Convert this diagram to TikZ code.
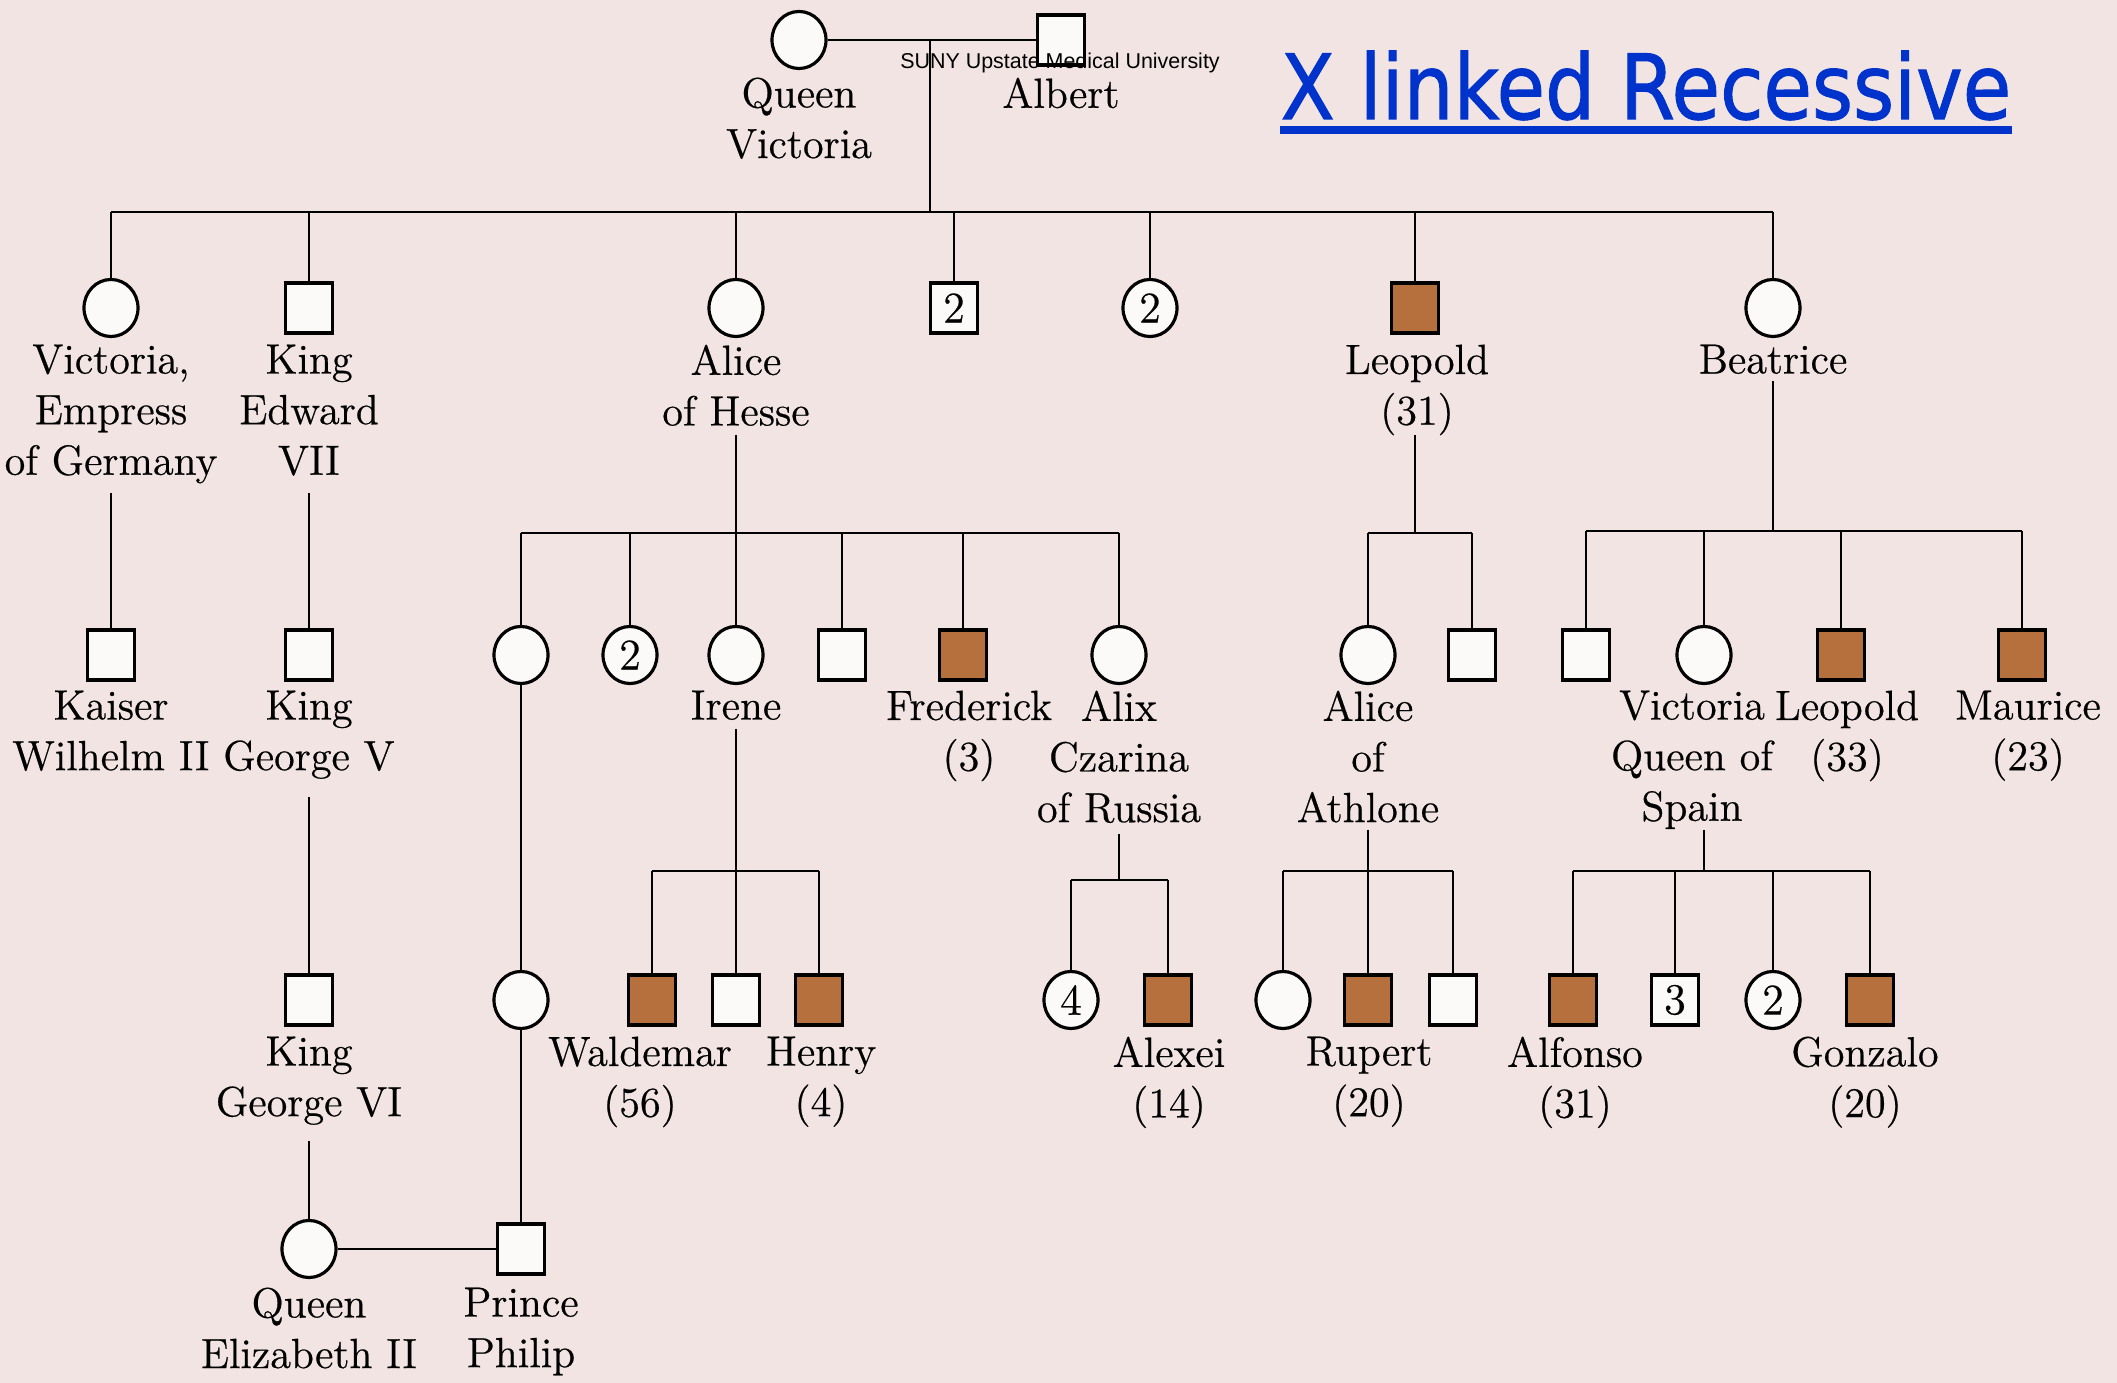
\documentclass[tikz,border=0pt]{standalone}
\usepackage{fontspec}
\usepackage{graphicx}
\newfontfamily\wmfont{Liberation Sans}
\newfontfamily\titlefont[FakeBold=1.2]{DejaVu Sans}
\newfontfamily\lblfont[FakeBold=0.5]{Latin Modern Roman}
\usetikzlibrary{shapes.geometric}
\definecolor{bgc}{RGB}{241,228,227}
\definecolor{affc}{RGB}{182,112,62}
\definecolor{ttlc}{RGB}{0,51,204}
\definecolor{symw}{RGB}{252,250,249}
\tikzset{
  fem/.style={ellipse, draw, fill=symw, line width=0.9pt, minimum width=0.54cm, minimum height=0.57cm, inner sep=0pt, font=\lblfont\fontsize{12.5}{14}\selectfont},
  mal/.style={rectangle, draw, fill=symw, line width=0.9pt, minimum width=0.47cm, minimum height=0.50cm, inner sep=0pt, font=\lblfont\fontsize{12.5}{14}\selectfont},
  affm/.style={mal, fill=affc},
  lbl/.style={anchor=north, align=center, inner sep=0pt, font=\lblfont\fontsize{12}{14.4}\selectfont},
  con/.style={line width=0.65pt}
}
\begin{document}
\begin{tikzpicture}[x=0.01cm, y=-0.01cm]
\fill[bgc] (0,0) rectangle (2117,1383);
\useasboundingbox (0,0) rectangle (2117,1383);

% ---------- Generation I ----------
\node[fem] (qv) at (799,40) {};
\node[mal] (alb) at (1061,40) {};
\node[lbl] (lqv) at (799,77) {Queen\\Victoria};
\node[lbl] (lalb) at (1061,77) {Albert};

% ---------- Generation II ----------
\node[fem] (vemp) at (111,308) {};
\node[mal] (ed7) at (309,308) {};
\node[fem] (alh) at (736,308) {};
\node[mal] (s2a) at (954,308) {2};
\node[fem] (c2a) at (1150,308) {2};
\node[affm] (leo) at (1415,308) {};
\node[fem] (bea) at (1773,308) {};

\node[lbl] (lvemp) at (111,344) {Victoria,\\Empress\\of Germany};
\node[lbl] (led7) at (309,344) {King\\Edward\\VII};
\node[lbl] (lalh) at (736,344) {Alice\\of Hesse};
\node[lbl] (lleo) at (1417,344) {Leopold\\(31)};
\node[lbl] (lbea) at (1773,344) {Beatrice};

% ---------- Generation III ----------
\node[mal] (kai) at (111,655) {};
\node[mal] (gv) at (309,655) {};
\node[fem] (c3) at (521,655) {};
\node[fem] (c2b) at (630,655) {2};
\node[fem] (ire) at (736,655) {};
\node[mal] (sq3) at (842,655) {};
\node[affm] (fre) at (963,655) {};
\node[fem] (alx) at (1119,655) {};
\node[fem] (ath) at (1368,655) {};
\node[mal] (sqa) at (1472,655) {};
\node[mal] (sqb) at (1586,655) {};
\node[fem] (vqs) at (1704,655) {};
\node[affm] (leo3) at (1841,655) {};
\node[affm] (mau) at (2022,655) {};

\node[lbl] (lkai) at (111,690) {Kaiser\\Wilhelm II};
\node[lbl] (lgv) at (309,690) {King\\George V};
\node[lbl] (lire) at (736,690) {Irene};
\node[lbl] (lfre) at (969,690) {Frederick\\(3)};
\node[lbl] (lalx) at (1119,690) {Alix\\Czarina\\of Russia};
\node[lbl] (lath) at (1368,690) {Alice\\of\\Athlone};
\node[lbl] (lvqs) at (1692,690) {Victoria\\Queen of\\Spain};
\node[lbl] (lleo3) at (1847,690) {Leopold\\(33)};
\node[lbl] (lmau) at (2028,690) {Maurice\\(23)};

% ---------- Generation IV ----------
\node[mal] (g6) at (309,1000) {};
\node[fem] (c4) at (521,1000) {};
\node[affm] (wal) at (652,1000) {};
\node[mal] (sqi) at (736,1000) {};
\node[affm] (hen) at (819,1000) {};
\node[fem] (c4n) at (1071,1000) {4};
\node[affm] (ale) at (1168,1000) {};
\node[fem] (cath) at (1283,1000) {};
\node[affm] (rup) at (1368,1000) {};
\node[mal] (sqr) at (1453,1000) {};
\node[affm] (alf) at (1573,1000) {};
\node[mal] (s3) at (1675,1000) {3};
\node[fem] (c2c) at (1773,1000) {2};
\node[affm] (gon) at (1870,1000) {};

\node[lbl] (lg6) at (309,1036) {King\\George VI};
\node[lbl] (lwal) at (640,1036) {Waldemar\\(56)};
\node[lbl] (lhen) at (821,1036) {Henry\\(4)};
\node[lbl] (lale) at (1169,1036) {Alexei\\(14)};
\node[lbl] (lrup) at (1369,1036) {Rupert\\(20)};
\node[lbl] (lalf) at (1575,1036) {Alfonso\\(31)};
\node[lbl] (lgon) at (1865,1036) {Gonzalo\\(20)};

% ---------- Generation V ----------
\node[fem] (qe2) at (309,1249) {};
\node[mal] (php) at (521,1249) {};
\node[lbl] (lqe2) at (309,1287) {Queen\\Elizabeth II};
\node[lbl] (lphp) at (521,1287) {Prince\\Philip};

% ---------- junction coordinates ----------
\coordinate (m1) at (930,40);
\coordinate (b1) at (930,212);
\coordinate (vemps) at (111,493);
\coordinate (ed7s) at (309,493);
\coordinate (alhs) at (736,435);
\coordinate (b2a) at (736,533);
\coordinate (leos) at (1415,435);
\coordinate (b2b) at (1415,533);
\coordinate (beas) at (1773,381);
\coordinate (b2c) at (1773,531);
\coordinate (gvs) at (309,797);
\coordinate (ires) at (736,729);
\coordinate (b3a) at (736,871);
\coordinate (alxs) at (1119,834);
\coordinate (b3b) at (1119,880);
\coordinate (aths) at (1368,830);
\coordinate (b3c) at (1368,871);
\coordinate (vqss) at (1704,830);
\coordinate (b3d) at (1704,871);
\coordinate (g6s) at (309,1141);

% ---------- connectors ----------
\begin{scope}[con]
% Gen I
\draw (qv) -- (alb);
\draw (m1) -- (b1);
\draw (vemp |- b1) -- (bea |- b1);
\foreach \n in {vemp,ed7,alh,s2a,c2a,leo,bea} \draw (\n |- b1) -- (\n.north);
% Gen II -> III
\draw (vemps) -- (kai.north);
\draw (ed7s) -- (gv.north);
\draw (alhs) -- (b2a);
\draw (c3 |- b2a) -- (alx |- b2a);
\foreach \n in {c3,c2b,ire,sq3,fre,alx} \draw (\n |- b2a) -- (\n.north);
\draw (leos) -- (b2b);
\draw (ath |- b2b) -- (sqa |- b2b);
\foreach \n in {ath,sqa} \draw (\n |- b2b) -- (\n.north);
\draw (beas) -- (b2c);
\draw (sqb |- b2c) -- (mau |- b2c);
\foreach \n in {sqb,vqs,leo3,mau} \draw (\n |- b2c) -- (\n.north);
% Gen III -> IV
\draw (c3) -- (c4);
\draw (gvs) -- (g6.north);
\draw (ires) -- (sqi.north);
\draw (wal |- b3a) -- (hen |- b3a);
\foreach \n in {wal,hen} \draw (\n |- b3a) -- (\n.north);
\draw (alxs) -- (b3b);
\draw (c4n |- b3b) -- (ale |- b3b);
\foreach \n in {c4n,ale} \draw (\n |- b3b) -- (\n.north);
\draw (aths) -- (rup.north);
\draw (cath |- b3c) -- (sqr |- b3c);
\foreach \n in {cath,sqr} \draw (\n |- b3c) -- (\n.north);
\draw (vqss) -- (b3d);
\draw (alf |- b3d) -- (gon |- b3d);
\foreach \n in {alf,s3,c2c,gon} \draw (\n |- b3d) -- (\n.north);
% Gen IV -> V
\draw (g6s) -- (qe2.north);
\draw (c4) -- (php);
\draw (qe2) -- (php);
\end{scope}

% ---------- overlays ----------
\node[inner sep=0pt, font=\wmfont\fontsize{6.1}{7}\selectfont] (wm) at (1060,63) {SUNY Upstate Medical University};
\node[anchor=base west, inner sep=0pt, text=ttlc] (ttl) at (1280,119)
  {\scalebox{1}[1.14]{\resizebox{7.3cm}{!}{\titlefont X linked Recessive}}};
\coordinate (ulA) at (1280,130);
\coordinate (ulB) at (2012,130);
\draw[ttlc, line width=0.075cm] (ulA) -- (ulB);
\end{tikzpicture}
\end{document}
